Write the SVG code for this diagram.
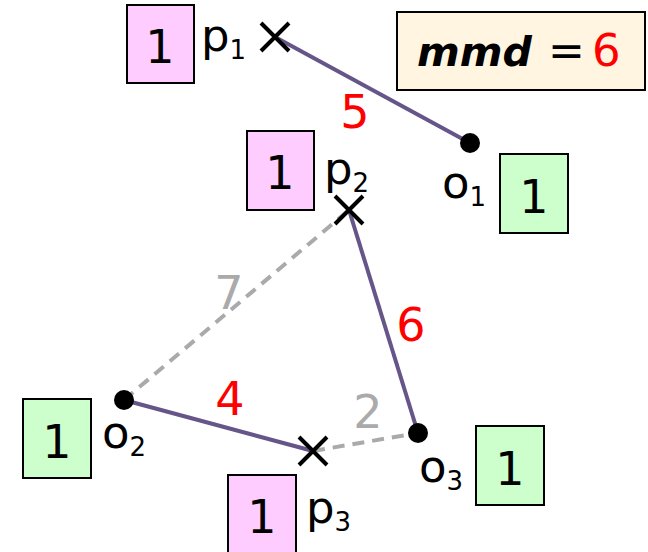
<svg xmlns="http://www.w3.org/2000/svg" width="648" height="552" viewBox="0 0 648 552">
<style>
text{font-family:"DejaVu Sans","Verdana",sans-serif;}
.pb{fill:#ffccff;stroke:#000;stroke-width:2}
.gb{fill:#ccffcc;stroke:#000;stroke-width:2}
.n{font-size:46px;fill:#000;text-anchor:middle}
.lb{font-size:45px;fill:#000}
.sub{font-size:26px}
.red{font-size:46px;fill:#ff0000;text-anchor:middle}
.gray{font-size:46px;fill:#aaaaaa;text-anchor:middle}
.solid{stroke:#665588;stroke-width:4;fill:none}
.dash{stroke:#aaaaaa;stroke-width:4;fill:none;stroke-dasharray:12 8}
.x{stroke:#000;stroke-width:4}
</style>
<g id="connectors">
<line class="dash" x1="124" y1="400" x2="349" y2="210"/>
<line class="dash" x1="313" y1="451" x2="418" y2="433"/>
<line class="solid" x1="275" y1="37" x2="470" y2="143"/>
<line class="solid" x1="349" y1="210" x2="418" y2="433"/>
<line class="solid" x1="124" y1="400" x2="313" y2="451"/>
<text class="red" x="355" y="128">5</text>
<text class="red" x="411" y="341">6</text>
<text class="red" x="230" y="415">4</text>
<text class="gray" x="229" y="309">7</text>
<text class="gray" x="368" y="428">2</text>
</g>
<g id="mmd">
<rect x="397" y="12" width="248" height="78" fill="#fff5e0" stroke="#000" stroke-width="2"/>
<text x="417" y="66" style="font-size:41px" font-weight="bold" font-style="italic">mmd</text>
<text x="548" y="66" style="font-size:44px">=</text>
<text x="592" y="66" style="font-size:45px" fill="#ff0000">6</text>
</g>
<g id="p1">
<rect class="pb" x="127" y="5" width="67" height="78"/>
<text class="n" x="160" y="63">1</text>
<text class="lb" x="201" y="51">p<tspan class="sub" dy="8">1</tspan></text>
<path class="x" d="M261 23L289 51M261 51L289 23"/>
</g>
<g id="p2">
<rect class="pb" x="247" y="131" width="67" height="79"/>
<text class="n" x="280" y="189">1</text>
<text class="lb" x="324" y="184">p<tspan class="sub" dy="8">2</tspan></text>
<path class="x" d="M335 196L363 224M335 224L363 196"/>
</g>
<g id="p3">
<rect class="pb" x="228" y="475" width="68" height="80"/>
<text class="n" x="262" y="533">1</text>
<text class="lb" x="306" y="523">p<tspan class="sub" dy="8">3</tspan></text>
<path class="x" d="M299 437L327 465M299 465L327 437"/>
</g>
<g id="o1">
<circle cx="470" cy="143" r="10" fill="#000"/>
<text class="lb" x="442" y="198">o<tspan class="sub" dy="8">1</tspan></text>
<rect class="gb" x="500" y="154" width="68" height="79"/>
<text class="n" x="534" y="213">1</text>
</g>
<g id="o2">
<circle cx="124" cy="400" r="10" fill="#000"/>
<text class="lb" x="102" y="448">o<tspan class="sub" dy="8">2</tspan></text>
<rect class="gb" x="23" y="399" width="68" height="79"/>
<text class="n" x="57" y="458">1</text>
</g>
<g id="o3">
<circle cx="418" cy="433" r="10" fill="#000"/>
<text class="lb" x="419" y="482">o<tspan class="sub" dy="8">3</tspan></text>
<rect class="gb" x="476" y="426" width="68" height="79"/>
<text class="n" x="510" y="485">1</text>
</g>
</svg>
